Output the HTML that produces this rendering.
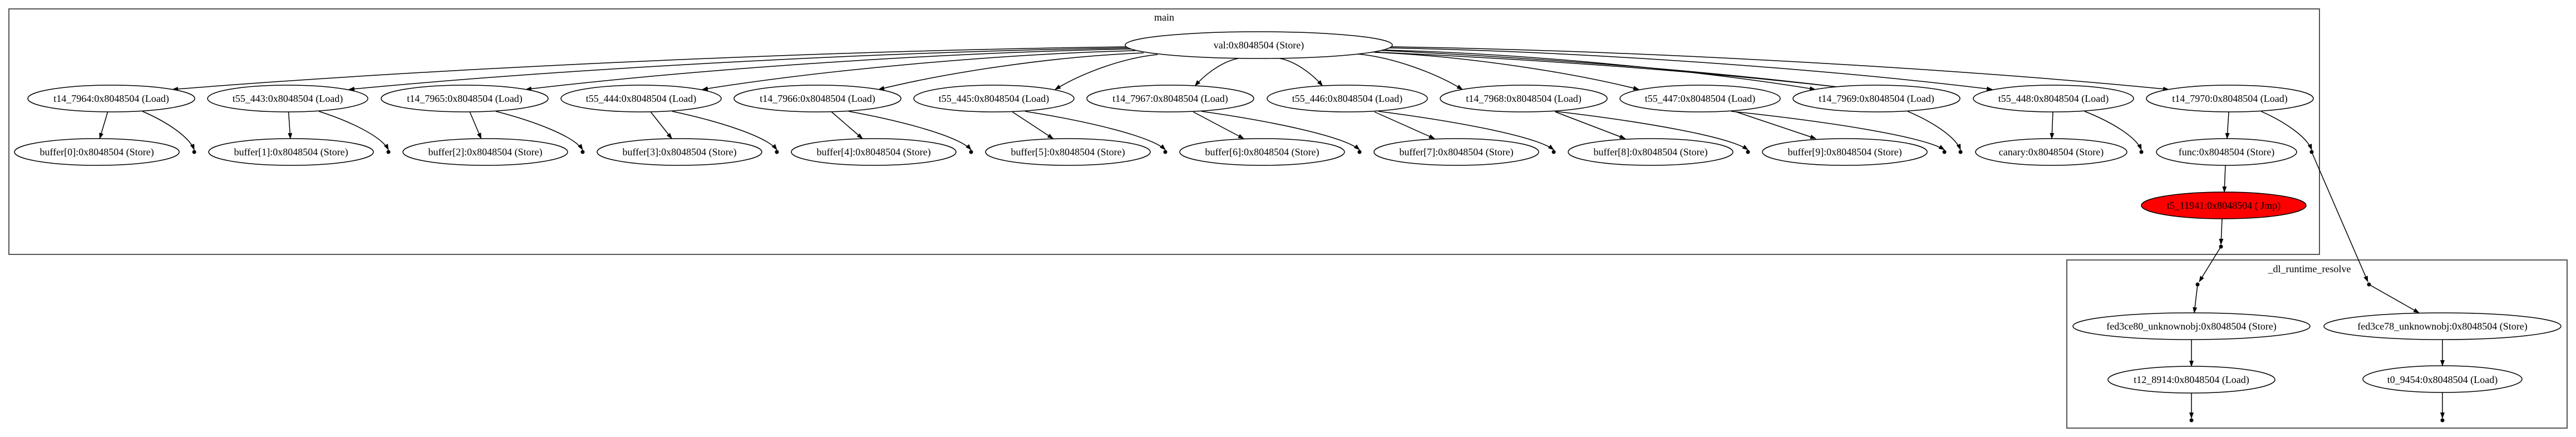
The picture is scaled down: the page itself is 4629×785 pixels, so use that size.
<!DOCTYPE html>
<html><head><meta charset="utf-8"><style>
html,body{margin:0;padding:0;background:#fff;width:4629px;height:785px;overflow:hidden}
svg text{font-family:"Liberation Serif",serif;font-size:18px;text-anchor:middle;fill:#000}
</style></head><body>
<svg id="s" width="4629" height="785" viewBox="0 0 4629 785" xmlns="http://www.w3.org/2000/svg">
<defs><marker id="a" markerWidth="11" markerHeight="8" refX="10" refY="4" orient="auto" markerUnits="userSpaceOnUse"><path d="M0,0 L11,4 L0,8 z" fill="#000"/></marker></defs>
<rect x="16" y="16" width="4152" height="441" fill="none" stroke="#555" stroke-width="2"/>
<rect x="3714" y="467" width="899" height="302" fill="none" stroke="#555" stroke-width="2"/>
<g id="shapes"></g>
<g id="labels">
<text x="2092" y="37">main</text>
<text x="4150" y="489">_dl_runtime_resolve</text>
<text x="2262" y="87">val:0x8048504 (Store)</text>
<text x="200" y="183">t14_7964:0x8048504 (Load)</text>
<text x="517" y="183">t55_443:0x8048504 (Load)</text>
<text x="835" y="183">t14_7965:0x8048504 (Load)</text>
<text x="1152" y="183">t55_444:0x8048504 (Load)</text>
<text x="1469" y="183">t14_7966:0x8048504 (Load)</text>
<text x="1786" y="183">t55_445:0x8048504 (Load)</text>
<text x="2103" y="183">t14_7967:0x8048504 (Load)</text>
<text x="2421" y="183">t55_446:0x8048504 (Load)</text>
<text x="2738" y="183">t14_7968:0x8048504 (Load)</text>
<text x="3055" y="183">t55_447:0x8048504 (Load)</text>
<text x="3372" y="183">t14_7969:0x8048504 (Load)</text>
<text x="3690" y="183">t55_448:0x8048504 (Load)</text>
<text x="4007" y="183">t14_7970:0x8048504 (Load)</text>
<text x="174" y="279">buffer[0]:0x8048504 (Store)</text>
<text x="523" y="279">buffer[1]:0x8048504 (Store)</text>
<text x="872" y="279">buffer[2]:0x8048504 (Store)</text>
<text x="1221" y="279">buffer[3]:0x8048504 (Store)</text>
<text x="1570" y="279">buffer[4]:0x8048504 (Store)</text>
<text x="1919" y="279">buffer[5]:0x8048504 (Store)</text>
<text x="2268" y="279">buffer[6]:0x8048504 (Store)</text>
<text x="2617" y="279">buffer[7]:0x8048504 (Store)</text>
<text x="2966" y="279">buffer[8]:0x8048504 (Store)</text>
<text x="3315" y="279">buffer[9]:0x8048504 (Store)</text>
<text x="3686" y="279">canary:0x8048504 (Store)</text>
<text x="4001" y="279">func:0x8048504 (Store)</text>
<text x="3996" y="375">t5_11941:0x8048504 ( Jmp)</text>
<text x="3938" y="592">fed3ce80_unknownobj:0x8048504 (Store)</text>
<text x="4389" y="592">fed3ce78_unknownobj:0x8048504 (Store)</text>
<text x="3938" y="688">t12_8914:0x8048504 (Load)</text>
<text x="4389" y="688">t0_9454:0x8048504 (Load)</text>
</g>
</svg>
<script>
(function(){
var g=document.getElementById('shapes'),NS='http://www.w3.org/2000/svg';
function el(t,a){var e=document.createElementNS(NS,t);for(var k in a)e.setAttribute(k,a[k]);g.appendChild(e);return e;}
function ell(cx,cy,rx,fill){el('ellipse',{cx:cx,cy:cy,rx:rx,ry:24,fill:fill||'#fff',stroke:'#000','stroke-width':1.5});}
function path(d){el('path',{d:d,fill:'none',stroke:'#000','stroke-width':1.5,'marker-end':'url(#a)'});}
function dot(x,y){el('circle',{cx:x,cy:y,r:3.5,fill:'#000'});}
var L=[200,517,835,1152,1469,1786,2103,2421,2738,3055,3372,3690,4007];
var B=[174,523,872,1221,1570,1919,2268,2617,2966,3315];
var D=[349,698,1047,1396,1745,2094,2443,2792,3141,3494,3523,3848,4154];
var S=[[2030,84],[2032,86],[2035,88],[2040,91],[2055,95],[2080,98],[2225,105],[2300,105],[2440,97],[2470,94],[2490,90],[2495,86],[2498,84]];
// val -> loads
for(var i=0;i<13;i++){
 var cx=L[i],d=2262-cx,off=Math.sign(d)*Math.min(110,Math.abs(d)*0.28);
 var tx=cx+off,ty=177-24*Math.sqrt(1-Math.pow(off/150,2));
 var sx=S[i][0],sy=S[i][1];
 var c1x=sx+(tx-sx)*0.35,c1y=sy+(ty-sy)*0.1,c2x=sx+(tx-sx)*0.75,c2y=sy+(ty-sy)*0.55;
 path('M'+sx+','+sy+' C'+c1x+','+c1y+' '+c2x+','+c2y+' '+tx+','+ty);
}
// back edges to val
path('M3300,156 C3000,120 2700,100 2386,86');
path('M3310,157 C3000,122 2700,103 2388,90');
// nodes
ell(2262,81,240);
for(var i=0;i<13;i++) ell(L[i],177,(i%2==0)?150:144);
for(var i=0;i<10;i++){ell(B[i],273,148);
 var cx=L[i],b=B[i];
 path('M'+(cx+(b-cx)*0.25)+',201 L'+(b-(b-cx)*0.2)+',249');}
ell(3686,273,136);ell(4001,273,126);ell(3996,369,148,'#ff0000');
path('M3689,201 L3687,249');path('M4005,201 L4002,249');path('M3999,297 L3997,345');
// load -> dots
for(var i=0;i<13;i++){
 var sx=L[i]+56,dx=D[i],span=dx-sx;
 path('M'+sx+',200 C'+(sx+span*0.45)+',218 '+(dx-span*0.1)+',245 '+dx+',269');
 dot(dx,273);
}
// red -> dot -> dot -> fed3ce80
path('M3993,393 L3991,439');dot(3991,443);
path('M3991,443 L3952,506');dot(3949,511);
path('M3949,511 L3943,562');
// func dot -> dl dot -> fed3ce78
path('M4154,273 L4255,506');dot(4257,511);
path('M4257,511 L4347,562');
ell(3938,586,213);ell(4389,586,213);ell(3938,682,150);ell(4389,681,143);
path('M3938,610 L3938,658');path('M4389,610 L4389,657');
path('M3938,706 L3938,751');dot(3938,755);
path('M4389,705 L4389,751');dot(4389,755);
// bring labels to front
var lab=document.getElementById('labels');lab.parentNode.appendChild(lab);
})();
</script>
</body></html>
